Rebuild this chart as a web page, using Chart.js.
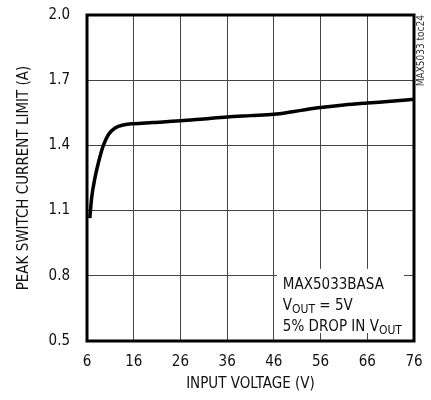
<!DOCTYPE html>
<html>
<head>
<meta charset="utf-8">
<script src="https://cdn.jsdelivr.net/npm/chart.js@4/dist/chart.umd.min.js"></script>
<style>
  html, body { margin: 0; padding: 0; background: #fff; }
  #wrap { width: 431px; height: 400px; position: relative; }
</style>
</head>
<body>
<div id="wrap"><canvas id="chart" width="431" height="400"></canvas></div>
<script>
// curve
const inputVoltage = [6.6, 7.0, 7.7, 8.8, 9.5, 10.6, 12, 14, 16, 20, 26, 31, 36, 41, 46, 50, 53, 56, 61, 66, 71, 76];
const peakCurrent = [1.065, 1.16, 1.25, 1.35, 1.40, 1.45, 1.48, 1.495, 1.50, 1.505, 1.513, 1.522, 1.531, 1.537, 1.543, 1.555, 1.565, 1.574, 1.586, 1.595, 1.603, 1.612];

const xTicks = [6, 16, 26, 36, 46, 56, 66, 76];
const yTicks = [0.5, 0.8, 1.1, 1.4, 1.7, 2.0];

const FONT = '"DejaVu Sans Condensed", "Liberation Sans Narrow", sans-serif';
const SIZE = 15;

// text with a subscript part, e.g. V + OUT
function drawSub(ctx, parts, x, y) {
    parts.forEach(p => {
        ctx.font = (p.sub ? '12px ' : SIZE + 'px ') + FONT;
        ctx.fillText(p.t, x, y + (p.sub ? 3 : 0));
        x += ctx.measureText(p.t).width;
    });
}

const notePlugin = {
    id: 'note',
    beforeDatasetsDraw(chart) {
        const ctx = chart.ctx;
        const xs = chart.scales.x, ys = chart.scales.y;
        const area = chart.chartArea;
        const left = xs.getPixelForValue(46) + 3;
        const top = ys.getPixelForValue(0.8) - 7;
        ctx.save();
        ctx.fillStyle = '#fff';
        ctx.fillRect(left, top, area.right - 10 - left, area.bottom - 8 - top);
        ctx.fillStyle = '#111';
        ctx.textBaseline = 'alphabetic';
        ctx.font = SIZE + 'px ' + FONT;
        const tx = left + 6;
        ctx.fillText('MAX5033BASA', tx, top + 20);
        drawSub(ctx, [{t: 'V'}, {t: 'OUT', sub: true}, {t: ' = 5V'}], tx, top + 41);
        drawSub(ctx, [{t: '5% DROP IN V'}, {t: 'OUT', sub: true}], tx, top + 62);
        ctx.restore();
    },
    afterDraw(chart) {
        const ctx = chart.ctx;
        const a = chart.chartArea;
        ctx.save();
        ctx.strokeStyle = '#000';
        ctx.lineWidth = 3;
        ctx.strokeRect(a.left, a.top, a.right - a.left, a.bottom - a.top);
        // figure tag on the right
        ctx.translate(a.right + 7, a.top);
        ctx.rotate(-Math.PI / 2);
        ctx.fillStyle = '#333';
        ctx.font = '10px ' + FONT;
        ctx.textAlign = 'right';
        ctx.textBaseline = 'middle';
        ctx.fillText('MAX5033 toc24', 0, 0);
        ctx.restore();
    }
};

new Chart(document.getElementById('chart'), {
    type: 'line',
    data: {
        datasets: [{
            data: inputVoltage.map((v, i) => ({x: v, y: peakCurrent[i]})),
            borderColor: '#000',
            borderWidth: 3.5,
            pointRadius: 0,
            cubicInterpolationMode: 'monotone',
            fill: false
        }]
    },
    options: {
        responsive: false,
        animation: false,
        devicePixelRatio: 1,
        layout: { padding: { top: 15, right: 17, left: 0, bottom: 0 } },
        plugins: { legend: { display: false }, tooltip: { enabled: false } },
        scales: {
            x: {
                type: 'linear',
                min: 6,
                max: 76,
                afterBuildTicks: s => { s.ticks = xTicks.map(v => ({value: v})); },
                afterFit: s => { s.height = 59; s.paddingLeft = 0; s.paddingRight = 0; },
                grid: { color: '#444', lineWidth: 1, drawTicks: false },
                border: { display: false },
                ticks: { color: '#111', padding: 12, font: { family: FONT, size: SIZE }, maxRotation: 0 },
                title: { display: true, text: 'INPUT VOLTAGE (V)', color: '#111', font: { family: FONT, size: SIZE }, padding: { top: 0, bottom: 7 } }
            },
            y: {
                min: 0.5,
                max: 2.0,
                afterBuildTicks: s => { s.ticks = yTicks.map(v => ({value: v})); },
                afterFit: s => { s.width = 87; s.paddingTop = 0; s.paddingBottom = 0; },
                grid: { color: '#444', lineWidth: 1, drawTicks: false },
                border: { display: false },
                ticks: { color: '#111', padding: 17, font: { family: FONT, size: SIZE }, callback: v => v.toFixed(1) },
                title: { display: true, text: 'PEAK SWITCH CURRENT LIMIT (A)', color: '#111', font: { family: FONT, size: SIZE }, padding: { top: 15, bottom: 0 } }
            }
        }
    },
    plugins: [notePlugin]
});
</script>
</body>
</html>
